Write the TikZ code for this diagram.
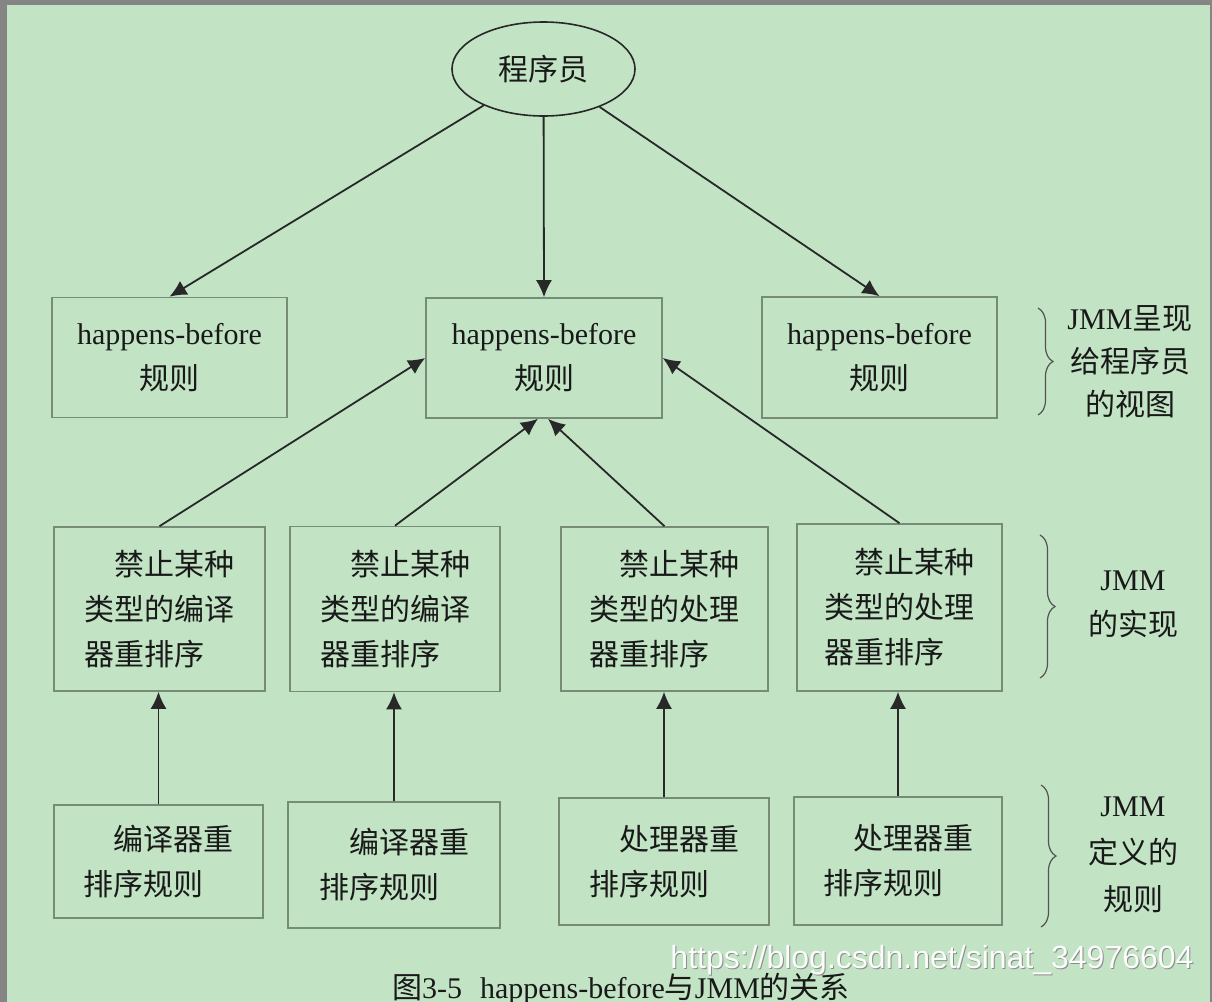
\documentclass[tikz,border=0pt]{standalone}
\usepackage{fontspec}
\setmainfont{Liberation Serif}
\newfontfamily\cjk{Noto Sans CJK SC}
\newfontfamily\wmfont{Liberation Sans}
\newcommand\zh[1]{{\cjk #1}}
\usetikzlibrary{shapes.geometric,arrows.meta,decorations.pathreplacing}
\definecolor{bg}{RGB}{194,228,197}
\definecolor{frame}{RGB}{133,133,133}
\definecolor{boxline}{RGB}{118,140,118}
\definecolor{ink}{RGB}{40,40,40}
\definecolor{txt}{RGB}{25,25,25}
\begin{document}
\begin{tikzpicture}[x=0.5pt,y=-0.5pt,
  every node/.style={text=txt, font=\fontsize{15pt}{22.5pt}\selectfont},
  rulebox/.style={draw=boxline, line width=0.8pt, inner sep=0pt, align=center},
  leftbox/.style={rulebox, align=left},
  arr/.style={draw=ink, line width=0.9pt, -{Latex[length=8.5pt,width=8pt]}},
  brc/.style={draw=ink!80, line width=0.6pt, decorate, decoration={brace,amplitude=7.5pt}},
  lbl/.style={align=center, inner sep=0pt}]
\useasboundingbox (0,0) rectangle (1212,1002);
\fill[frame] (0,0) rectangle (1212,1002);
\fill[bg] (7,5) rectangle (1210,1002);

% top ellipse
\node[ellipse, draw=ink, line width=0.8pt, minimum width=91.5pt, minimum height=47pt, inner sep=0pt] (prog) at (543.5,69) {\zh{程序员}};

% row 1
\node[rulebox, minimum width=117.5pt, minimum height=60pt] (h1) at (169.5,357.5) {happens-before\\\zh{规则}};
\node[rulebox, minimum width=118pt, minimum height=60pt] (h2) at (544,358) {happens-before\\\zh{规则}};
\node[rulebox, minimum width=117.5pt, minimum height=60.5pt] (h3) at (879.5,357.5) {happens-before\\\zh{规则}};

% row 2
\node[leftbox, minimum width=105.5pt, minimum height=82pt] (r1) at (159.5,609) {\hspace*{1em}\zh{禁止某种}\\\zh{类型的编译}\\\zh{器重排序}};
\node[leftbox, minimum width=105pt, minimum height=82.5pt] (r2) at (395,609) {\hspace*{1em}\zh{禁止某种}\\\zh{类型的编译}\\\zh{器重排序}};
\node[leftbox, minimum width=103.5pt, minimum height=82pt] (r3) at (664.5,609) {\hspace*{1em}\zh{禁止某种}\\\zh{类型的处理}\\\zh{器重排序}};
\node[leftbox, minimum width=102.5pt, minimum height=83.5pt] (r4) at (899.5,607.5) {\hspace*{1em}\zh{禁止某种}\\\zh{类型的处理}\\\zh{器重排序}};

% row 3
\node[leftbox, minimum width=104.5pt, minimum height=56.5pt] (d1) at (158.5,861.5) {\hspace*{1em}\zh{编译器重}\\\zh{排序规则}};
\node[leftbox, minimum width=106pt, minimum height=63pt] (d2) at (394,865) {\hspace*{1em}\zh{编译器重}\\\zh{排序规则}};
\node[leftbox, minimum width=105pt, minimum height=63.5pt] (d3) at (664,861.5) {\hspace*{1em}\zh{处理器重}\\\zh{排序规则}};
\node[leftbox, minimum width=104pt, minimum height=64pt] (d4) at (898,861) {\hspace*{1em}\zh{处理器重}\\\zh{排序规则}};

% connectors
\draw[arr] (prog) -- (h1.north);
\draw[arr] (prog) -- (h2.north);
\draw[arr] (prog) -- (h3.north);
\draw[arr] (r1.north) -- (h2.west);
\draw[arr] (r2.north) -- ([xshift=-3pt]h2.south);
\draw[arr] (r3.north) -- ([xshift=2pt]h2.south);
\draw[arr] (r4.north) -- (h2.east);
\draw[arr] (d1.north) -- (d1.north |- r1.south);
\draw[arr] (d2.north) -- (d2.north |- r2.south);
\draw[arr] (d3.north) -- (d3.north |- r3.south);
\draw[arr] (d4.north) -- (d4.north |- r4.south);

% braces
\coordinate (b1a) at (1038,308); \coordinate (b1b) at (1038,415);
\coordinate (b2a) at (1040,535); \coordinate (b2b) at (1040,678);
\coordinate (b3a) at (1041,785); \coordinate (b3b) at (1041,927);
\draw[brc] (b1a) -- (b1b);
\draw[brc] (b2a) -- (b2b);
\draw[brc] (b3a) -- (b3b);

% brace labels
\node[lbl, font=\fontsize{15pt}{21.5pt}\selectfont] (l1) at (1130,362) {JMM\zh{呈现}\\\zh{给程序员}\\\zh{的视图}};
\node[lbl, font=\fontsize{15pt}{22.5pt}\selectfont] (l2) at (1133,604.5) {JMM\\\zh{的实现}};
\node[lbl, font=\fontsize{15pt}{23.5pt}\selectfont] (l3) at (1133,855) {JMM\\\zh{定义的}\\\zh{规则}};

% watermark
\node[inner sep=0pt, font=\wmfont\fontsize{16pt}{16pt}\selectfont, text=black!45] (wmshadow) at (933,961) {https://blog.csdn.net/sinat\_34976604};
\node[inner sep=0pt, font=\wmfont\fontsize{16pt}{16pt}\selectfont, text=white!92!bg] (wm) at (932,960) {https://blog.csdn.net/sinat\_34976604};

% caption
\node[inner sep=0pt] (cap) at (621,989) {\zh{图}3-5\hspace{0.6em}happens-before\zh{与}JMM\zh{的关系}};
\end{tikzpicture}
\end{document}
